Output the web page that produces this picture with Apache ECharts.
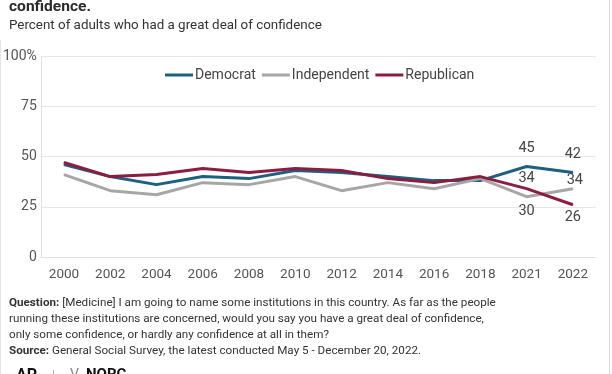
<!DOCTYPE html>
<html>
<head>
<meta charset="utf-8">
<script src="https://cdn.jsdelivr.net/npm/echarts@6/dist/echarts.min.js"></script>
<style>
html,body{margin:0;padding:0;background:#fff;}
#c{width:612px;height:374px;}
</style>
</head>
<body>
<div id="c"></div>
<script>
const years = ['2000','2002','2004','2006','2008','2010','2012','2014','2016','2018','2021','2022'];
const democrat = [46,40,36,40,39,43,42,40,38,38,45,42];
const independent = [41,33,31,37,36,40,33,37,34,39,30,34];
const republican = [47,40,41,44,42,44,43,39,37,40,34,26];
const yTicks = [0,25,50,75,100];

const titleText = 'confidence.';
const subtitleText = 'Percent of adults who had a great deal of confidence';
const qLine1 = '[Medicine] I am going to name some institutions in this country. As far as the people';
const qLine2 = 'running these institutions are concerned, would you say you have a great deal of confidence,';
const qLine3 = 'only some confidence, or hardly any confidence at all in them?';
const srcText = 'General Social Survey, the latest conducted May 5 - December 20, 2022.';

const font = 'Roboto, "Liberation Sans", sans-serif';
const mctx = document.createElement('canvas').getContext('2d');
function fit(text, weight, target) {
  mctx.font = weight + ' 100px ' + font;
  return +(100 * target / mctx.measureText(text).width).toFixed(2);
}
const titleSize = fit(titleText, 'bold', 82);
const subSize = fit(subtitleText, 'normal', 313);
const footSize = fit(qLine2, 'normal', 475);

// label placement for the last two years: [position, distance]
const demLbl = {10: ['top', 10], 11: ['top', 10]};
const indLbl = {10: ['bottom', 7], 11: ['top', 0]};
const repLbl = {10: ['top', 2], 11: ['bottom', 5]};
function mk(arr, spec) {
  return arr.map((v,i) => {
    if (!spec[i]) return v;
    return {value: v, label: {show: true, position: spec[i][0], distance: spec[i][1],
      offset: (spec === indLbl && i === 11) ? [2, 0] : [0, 0]}};
  });
}

const chart = echarts.init(document.getElementById('c'), null, {renderer:'canvas'});
const lbl = {show: false, fontSize: 14.5, color: '#444', fontFamily: font};
function line(name, data) {
  return {name: name, type: 'line', data: data, symbol: 'circle', symbolSize: 1, showSymbol: true,
    lineStyle: {width: 3}, label: lbl, emphasis: {disabled: true}};
}
chart.setOption({
  animation: false,
  textStyle: {fontFamily: font},
  color: ['#1f5f80','#a6a6a6','#8b1d3f'],
  grid: {left: 40, right: 16, top: 56, bottom: 117},
  legend: {
    top: 63, left: 160,
    itemWidth: 28, itemHeight: 3, itemGap: 6,
    icon: 'rect',
    textStyle: {fontSize: 14, color: '#444', fontFamily: font, padding: [0,0,0,-3]},
    data: ['Democrat','Independent','Republican']
  },
  xAxis: {
    type: 'category', data: years, boundaryGap: true,
    axisLine: {show: true, lineStyle: {color: '#e0e0e0', width: 1}},
    axisTick: {show: false},
    axisLabel: {fontSize: 13.5, color: '#555', margin: 11, fontFamily: font}
  },
  yAxis: {
    type: 'value', min: 0, max: 100, interval: 25,
    axisLine: {show: true, lineStyle: {color: '#e0e0e0'}},
    splitLine: {lineStyle: {color: '#e6e6e6'}},
    axisLabel: {fontSize: 14, color: '#555', margin: 4, fontFamily: font,
      formatter: v => v === 100 ? '100%' : String(v)}
  },
  series: [
    line('Democrat', mk(democrat, demLbl)),
    line('Independent', mk(independent, indLbl)),
    line('Republican', mk(republican, repLbl))
  ],
  graphic: [
    {type: 'rect', shape: {x: 609, y: 0, width: 1, height: 374}, style: {fill: '#dddddd'}},
    {type: 'rect', shape: {x: 0, y: 40, width: 1, height: 334}, style: {fill: '#e4e4e4'}},
    {type: 'text', x: 9, y: 12 + titleSize * 0.22, style: {text: titleText, font: 'bold ' + titleSize + 'px ' + font, fill: '#2b2b2b', verticalAlign: 'bottom'}},
    {type: 'text', x: 9, y: 26, style: {text: subtitleText, font: subSize + 'px ' + font, fill: '#333', verticalAlign: 'middle'}},
    {type: 'text', x: 9, y: 294.7, style: {
      text: '{b|Question:} ' + qLine1 + '\n' + qLine2 + '\n' + qLine3 + '\n{b|Source:} ' + srcText,
      font: footSize + 'px ' + font, fill: '#333', lineHeight: 16.1, verticalAlign: 'top',
      rich: {b: {fontWeight: 'bold', fontSize: footSize, fontFamily: font, fill: '#333', lineHeight: 16.1}}
    }},
    {type: 'text', x: 16, y: 368, style: {text: 'AP', font: 'bold 16px ' + font, fill: '#111', verticalAlign: 'top'}},
    {type: 'rect', shape: {x: 53, y: 370, width: 1, height: 6}, style: {fill: '#aaa'}},
    {type: 'text', x: 70, y: 368, style: {text: 'V', font: '14px ' + font, fill: '#888', verticalAlign: 'top'}},
    {type: 'text', x: 86, y: 368, style: {text: 'NORC', font: 'bold 15px ' + font, fill: '#111', verticalAlign: 'top'}}
  ]
});
</script>
</body>
</html>
